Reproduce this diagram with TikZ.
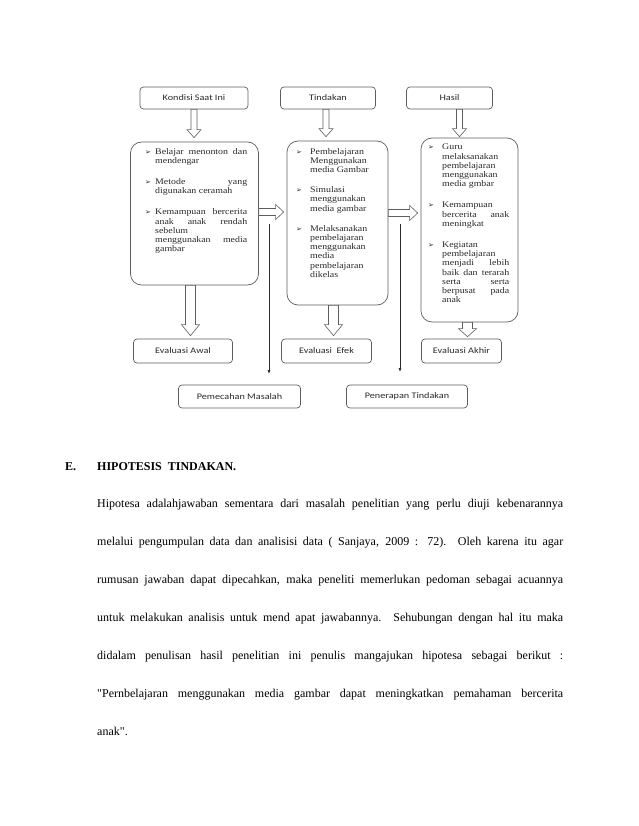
\documentclass[tikz,border=0pt]{standalone}
\usepackage{fontspec}
\setmainfont{Liberation Serif}
\newfontfamily\boxfont[FakeStretch=1.15]{Liberation Serif}
\newfontfamily\labfont[FakeStretch=1.2]{Carlito}
\newfontfamily\parfont{Liberation Serif}
\newfontfamily\symfont{DejaVu Sans}
\usetikzlibrary{calc,arrows.meta}

\definecolor{edgegray}{HTML}{5E5E5E}
\definecolor{txtgray}{HTML}{2A2A2A}

\newcommand\jline[2]{\makebox[#1][s]{#2}}
\newcommand\bul[1]{\makebox[#1][l]{\symfont\fontsize{7}{7}\selectfont\symbol{"27A2}}}
\newcommand\vblock[5]{%
  \draw[blockarr] let \p1=#1, \p2=#2 in
    (\x1-#3,\y1) -- (\x1-#3,\y2+#5) -- (\x1-#4,\y2+#5) -- (\x1,\y2)
    -- (\x1+#4,\y2+#5) -- (\x1+#3,\y2+#5) -- (\x1+#3,\y1) -- cycle;}
\newcommand\hblock[5]{%
  \draw[blockarr] let \p1=#1, \p2=#2 in
    (\x1,\y1+#3) -- (\x2-#5,\y1+#3) -- (\x2-#5,\y1+#4) -- (\x2,\y1)
    -- (\x2-#5,\y1-#4) -- (\x2-#5,\y1-#3) -- (\x1,\y1-#3) -- cycle;}

\tikzset{
  labbox/.style={draw=edgegray, line width=0.7pt, rounded corners=3.5pt, fill=white,
    minimum height=22pt, inner sep=0pt, text=txtgray,
    font=\labfont\fontsize{8.5}{9}\selectfont},
  bigbox/.style={draw=edgegray, line width=0.7pt, rounded corners=11pt, inner sep=0pt},
  listtext/.style={anchor=north west, inner sep=0pt, align=left, text=txtgray,
    font=\boxfont\fontsize{8.6}{9.2}\selectfont},
  blockarr/.style={draw=edgegray, line width=0.6pt, fill=white, line join=miter},
  thinarr/.style={draw=txtgray, line width=0.7pt, -{Latex[length=4pt,width=3pt]}},
  partext/.style={anchor=base west, inner sep=0pt, text=black,
    font=\parfont\fontsize{12}{14}\selectfont},
}

\begin{document}
\begin{tikzpicture}[x=1pt,y=-1pt]
\useasboundingbox[fill=white] (0,0) rectangle (638,826);

% top label boxes
\node[labbox, minimum width=108pt] (k) at (194,98) {Kondisi Saat Ini};
\node[labbox, minimum width=95pt] (t) at (328,98) {Tindakan};
\node[labbox, minimum width=86pt] (h) at (449.5,98) {Hasil};

% big boxes
\node[bigbox, minimum width=128pt, minimum height=143pt] (b1) at (194.5,213.5) {};
\node[bigbox, minimum width=101pt, minimum height=164pt] (b2) at (337.5,223) {};
\node[bigbox, minimum width=97pt, minimum height=184pt] (b3) at (469.5,230) {};

% list texts
\node[listtext] (l1) at (145,148) {%
\bul{10pt}\jline{92pt}{Belajar menonton dan}\\
\hspace*{10pt}mendengar\\[12pt]
\bul{10pt}\jline{92pt}{Metode yang}\\
\hspace*{10pt}digunakan ceramah\\[12pt]
\bul{10pt}\jline{92pt}{Kemampuan bercerita}\\
\hspace*{10pt}\jline{92pt}{anak anak rendah}\\
\hspace*{10pt}sebelum\\
\hspace*{10pt}\jline{92pt}{menggunakan media}\\
\hspace*{10pt}gambar};

\node[listtext] (l2) at (296,148) {%
\bul{14pt}Pembelajaran\\
\hspace*{14pt}Menggunakan\\
\hspace*{14pt}media Gambar\\[11pt]
\bul{14pt}Simulasi\\
\hspace*{14pt}menggunakan\\
\hspace*{14pt}media gambar\\[11pt]
\bul{14pt}Melaksanakan\\
\hspace*{14pt}pembelajaran\\
\hspace*{14pt}menggunakan\\
\hspace*{14pt}media\\
\hspace*{14pt}pembelajaran\\
\hspace*{14pt}dikelas};

\node[listtext] (l3) at (428,144) {%
\bul{14pt}Guru\\
\hspace*{14pt}melaksanakan\\
\hspace*{14pt}pembelajaran\\
\hspace*{14pt}menggunakan\\
\hspace*{14pt}media gmbar\\[12pt]
\bul{14pt}Kemampuan\\
\hspace*{14pt}\jline{67pt}{bercerita anak}\\
\hspace*{14pt}meningkat\\[12pt]
\bul{14pt}Kegiatan\\
\hspace*{14pt}pembelajaran\\
\hspace*{14pt}\jline{67pt}{menjadi lebih}\\
\hspace*{14pt}\jline{67pt}{baik dan terarah}\\
\hspace*{14pt}\jline{67pt}{serta serta}\\
\hspace*{14pt}\jline{67pt}{berpusat pada}\\
\hspace*{14pt}anak};

% bottom label boxes
\node[labbox, minimum width=99pt, minimum height=24pt] (e1) at (183,351) {Evaluasi Awal};
\node[labbox, minimum width=90pt, minimum height=24pt] (e2) at (326.5,351) {Evaluasi\ \ Efek};
\node[labbox, minimum width=80pt, minimum height=24pt] (e3) at (461.5,351) {Evaluasi Akhir};
\node[labbox, minimum width=122pt, minimum height=23pt] (p1) at (239.5,396.5) {Pemecahan Masalah};
\node[labbox, minimum width=121pt, minimum height=23pt] (p2) at (407,396.5) {Penerapan Tindakan};

% block arrows down from top labels
\vblock{(k.south)}{($(b1.north)+(0,-4)$)}{3pt}{7pt}{8pt}
\vblock{($(t.south)+(-2,0)$)}{($(b2.north)+(0,-4)$)}{3pt}{7pt}{8pt}
\vblock{($(h.south)+(10,0)$)}{($(b3.north)+(0,-1)$)}{3pt}{7pt}{8pt}

% block arrows down to evaluations
\vblock{($(b1.south)+(-4,0)$)}{($(e1.north)+(0,-3)$)}{5pt}{9pt}{11pt}
\vblock{($(b2.south)+(-4,0)$)}{($(e2.north)+(0,-3)$)}{5pt}{9pt}{11pt}
\vblock{($(b3.south)+(-2,0)$)}{($(e3.north)+(0,-2)$)}{5pt}{9pt}{8pt}

% horizontal block arrows
\hblock{($(b1.east)+(0,-1.5)$)}{($(b2.west)+(-3,0)$)}{3.5pt}{7.5pt}{8pt}
\hblock{($(b2.east)+(0,-10)$)}{($(b3.west)+(-3,0)$)}{3.5pt}{7.5pt}{8pt}

% thin arrows
\coordinate (s1) at (269,224);
\coordinate (s1e) at (269,374);
\coordinate (s2) at (400,224);
\coordinate (s2e) at (400,372);
\draw[thinarr] (s1) -- (s1e);
\draw[thinarr] (s2) -- (s2e);

% heading and paragraph
\node[partext, font=\parfont\bfseries\fontsize{12}{14}\selectfont] (hE) at (65,470) {E.};
\node[partext, font=\parfont\bfseries\fontsize{12}{14}\selectfont] (hT) at (97,470) {HIPOTESIS\ \ TINDAKAN.};
\node[partext] (r1) at (97,507) {\jline{466pt}{Hipotesa adalahjawaban sementara dari masalah penelitian yang perlu diuji kebenarannya}};
\node[partext] (r2) at (97,545) {\jline{466pt}{melalui pengumpulan data dan analisisi data ( Sanjaya, 2009 : 72). Oleh karena itu agar}};
\node[partext] (r3) at (97,583) {\jline{466pt}{rumusan jawaban dapat dipecahkan, maka peneliti memerlukan pedoman sebagai acuannya}};
\node[partext] (r4) at (97,621) {\jline{466pt}{untuk melakukan analisis untuk mend apat jawabannya. Sehubungan dengan hal itu maka}};
\node[partext] (r5) at (97,659) {\jline{466pt}{didalam penulisan hasil penelitian ini penulis mangajukan hipotesa sebagai berikut :}};
\node[partext] (r6) at (97,697) {\jline{466pt}{"Pernbelajaran menggunakan media gambar dapat meningkatkan pemahaman bercerita}};
\node[partext] (r7) at (97,735) {anak".};
\end{tikzpicture}
\end{document}
